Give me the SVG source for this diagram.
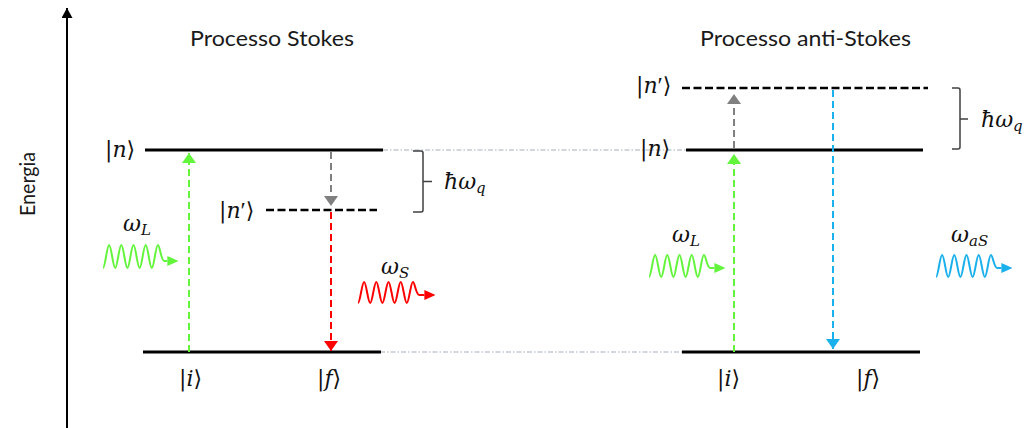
<svg xmlns="http://www.w3.org/2000/svg" width="1027" height="428" viewBox="0 0 1027 428">
<defs>
<style>
.title{font-family:Lato,"Open Sans","Liberation Sans",sans-serif;font-size:22px;fill:#1a1a1a}
.math{font-family:"DejaVu Serif","Liberation Serif",serif;font-size:22px;fill:#111}
.it{font-style:italic}
.pr{font-family:"Liberation Serif","DejaVu Serif",serif;font-style:normal;font-size:24px}
.sub{font-style:italic;font-size:15px}
.lvl{stroke:#000;stroke-width:3;fill:none}
.vlvl{stroke:#000;stroke-width:2.5;stroke-dasharray:8 3.5;fill:none}
.guide{stroke:#c3c9d3;stroke-width:1.5;stroke-dasharray:5 2 1.5 2;fill:none}
.brace{stroke:#404040;stroke-width:1.5;fill:none}
.tr{stroke-width:2;stroke-dasharray:7 4;fill:none}
.wave{stroke-width:2;fill:none;stroke-linejoin:round}
</style>
<marker id="ahG" markerUnits="userSpaceOnUse" markerWidth="10" markerHeight="14" refX="10" refY="7" orient="auto"><path d="M0,0 L10,7 L0,14 z" fill="#62f53c"/></marker>
<marker id="ahGr" markerUnits="userSpaceOnUse" markerWidth="10" markerHeight="14" refX="10" refY="7" orient="auto"><path d="M0,0 L10,7 L0,14 z" fill="#808080"/></marker>
<marker id="ahR" markerUnits="userSpaceOnUse" markerWidth="10" markerHeight="14" refX="10" refY="7" orient="auto"><path d="M0,0 L10,7 L0,14 z" fill="#ff0000"/></marker>
<marker id="ahB" markerUnits="userSpaceOnUse" markerWidth="10" markerHeight="14" refX="10" refY="7" orient="auto"><path d="M0,0 L10,7 L0,14 z" fill="#1ab0ec"/></marker>
<marker id="wG" markerUnits="userSpaceOnUse" markerWidth="11" markerHeight="10" refX="0" refY="5" orient="auto"><path d="M0,0 L11,5 L0,10 z" fill="#62f53c"/></marker>
<marker id="wR" markerUnits="userSpaceOnUse" markerWidth="11" markerHeight="10" refX="0" refY="5" orient="auto"><path d="M0,0 L11,5 L0,10 z" fill="#ff0000"/></marker>
<marker id="wB" markerUnits="userSpaceOnUse" markerWidth="11" markerHeight="10" refX="0" refY="5" orient="auto"><path d="M0,0 L11,5 L0,10 z" fill="#1ab0ec"/></marker>
<marker id="axisHead" markerUnits="userSpaceOnUse" markerWidth="10" markerHeight="11" refX="10" refY="5.5" orient="auto"><path d="M0,0 L10,5.5 L0,11 z" fill="#000"/></marker>
</defs>

<g id="axis">
<line x1="67" y1="428" x2="67" y2="8" stroke="#000" stroke-width="2" marker-end="url(#axisHead)"/>
<text class="title" text-anchor="middle" transform="translate(35,184) rotate(-90)" font-size="21" textLength="64" lengthAdjust="spacingAndGlyphs">Energia</text>
</g>

<g id="titles">
<text class="title" x="190" y="46" textLength="164" lengthAdjust="spacingAndGlyphs">Processo Stokes</text>
<text class="title" x="700" y="46" textLength="211" lengthAdjust="spacingAndGlyphs">Processo anti-Stokes</text>
</g>

<g id="guides">
<line class="guide" x1="383" y1="150" x2="686" y2="150"/>
<line class="guide" x1="380" y1="352" x2="682" y2="352"/>
</g>

<g id="stokes-n">
<line class="lvl" x1="145" y1="150" x2="383" y2="150"/>
<text class="math" x="105" y="157">|<tspan class="it">n</tspan>⟩</text>
</g>
<g id="stokes-nprime">
<line class="vlvl" x1="266" y1="210" x2="377" y2="210"/>
<text class="math" x="219" y="218">|<tspan class="it">n</tspan><tspan class="pr">′</tspan>⟩</text>
</g>
<g id="stokes-ground">
<line class="lvl" x1="143" y1="352" x2="381" y2="352"/>
<text class="math" x="179" y="386">|<tspan class="it">i</tspan>⟩</text>
<text class="math" x="317" y="386">|<tspan class="it">f</tspan>⟩</text>
</g>
<g id="stokes-brace">
<path class="brace" d="M413,151 H421 Q423,151 423,153 V181.5 H432 M423,181.5 V210 Q423,212 421,212 H413"/>
<text class="math" x="444" y="189"><tspan class="it">ħω</tspan><tspan class="sub" dy="4">q</tspan></text>
</g>
<g id="stokes-laser">
<path class="wave" stroke="#62f53c" marker-end="url(#wG)" d="M103,268 c2.2,0 3.9,-23 6.1,-23 c2.2,0 3.9,23 6.1,23 c2.2,0 3.9,-23 6.1,-23 c2.2,0 3.9,23 6.1,23 c2.2,0 3.9,-23 6.1,-23 c2.2,0 3.9,23 6.1,23 c2.2,0 3.9,-23 6.1,-23 c2.2,0 3.9,23 6.1,23 c2.2,0 3.9,-23 6.1,-23 c2,0 3,16 6.5,16 l3,0"/>
<text class="math" x="123" y="231"><tspan class="it">ω</tspan><tspan class="sub" dy="4">L</tspan></text>
</g>
<g id="stokes-scattered">
<path class="wave" stroke="#ff0000" marker-end="url(#wR)" d="M358,303 c2.2,0 3.9,-21 6.1,-21 c2.2,0 3.9,21 6.1,21 c2.2,0 3.9,-21 6.1,-21 c2.2,0 3.9,21 6.1,21 c2.2,0 3.9,-21 6.1,-21 c2.2,0 3.9,21 6.1,21 c2.2,0 3.9,-21 6.1,-21 c2.2,0 3.9,21 6.1,21 c2.2,0 3.9,-21 6.1,-21 c2,0 3,13 6.5,13 l5,0"/>
<text class="math" x="381" y="274"><tspan class="it">ω</tspan><tspan class="sub" dy="4">S</tspan></text>
</g>

<g id="anti-nprime">
<line class="vlvl" x1="682" y1="88" x2="928" y2="88"/>
<text class="math" x="636" y="93">|<tspan class="it">n</tspan><tspan class="pr">′</tspan>⟩</text>
</g>
<g id="anti-n">
<line class="lvl" x1="686" y1="150" x2="923" y2="150"/>
<text class="math" x="640" y="156">|<tspan class="it">n</tspan>⟩</text>
</g>
<g id="anti-ground">
<line class="lvl" x1="682" y1="352" x2="920" y2="352"/>
<text class="math" x="717" y="386">|<tspan class="it">i</tspan>⟩</text>
<text class="math" x="856" y="386">|<tspan class="it">f</tspan>⟩</text>
</g>
<g id="anti-brace">
<path class="brace" d="M952,88 H958 Q960,88 960,90 V119 H968 M960,119 V147 Q960,149 958,149 H952"/>
<text class="math" x="981" y="127"><tspan class="it">ħω</tspan><tspan class="sub" dy="4">q</tspan></text>
</g>
<g id="anti-laser">
<path class="wave" stroke="#62f53c" marker-end="url(#wG)" d="M649,277 c2.2,0 3.9,-22 6.1,-22 c2.2,0 3.9,22 6.1,22 c2.2,0 3.9,-22 6.1,-22 c2.2,0 3.9,22 6.1,22 c2.2,0 3.9,-22 6.1,-22 c2.2,0 3.9,22 6.1,22 c2.2,0 3.9,-22 6.1,-22 c2.2,0 3.9,22 6.1,22 c2.2,0 3.9,-22 6.1,-22 c2,0 3,13 6.5,13 l4,0"/>
<text class="math" x="672" y="242"><tspan class="it">ω</tspan><tspan class="sub" dy="4">L</tspan></text>
</g>
<g id="anti-scattered">
<path class="wave" stroke="#1ab0ec" marker-end="url(#wB)" d="M936,277 c2.2,0 3.9,-22 6.1,-22 c2.2,0 3.9,22 6.1,22 c2.2,0 3.9,-22 6.1,-22 c2.2,0 3.9,22 6.1,22 c2.2,0 3.9,-22 6.1,-22 c2.2,0 3.9,22 6.1,22 c2.2,0 3.9,-22 6.1,-22 c2.2,0 3.9,22 6.1,22 c2.2,0 3.9,-22 6.1,-22 c2,0 3,13 6.5,13 l4,0"/>
<text class="math" x="951" y="242"><tspan class="it">ω</tspan><tspan class="sub" dy="4">aS</tspan></text>
</g>

<g id="connectors">
<line class="tr" stroke="#62f53c" x1="189" y1="352" x2="189" y2="153" marker-end="url(#ahG)"/>
<line class="tr" stroke="#808080" x1="331" y1="152" x2="331" y2="206" marker-end="url(#ahGr)"/>
<line class="tr" stroke="#ff0000" x1="331" y1="212" x2="331" y2="351" marker-end="url(#ahR)"/>
<line class="tr" stroke="#62f53c" x1="734" y1="352" x2="734" y2="154" marker-end="url(#ahG)"/>
<line class="tr" stroke="#808080" x1="734" y1="148" x2="734" y2="94" marker-end="url(#ahGr)"/>
<line class="tr" stroke="#1ab0ec" x1="833" y1="90" x2="833" y2="349" marker-end="url(#ahB)"/>
</g>
</svg>
